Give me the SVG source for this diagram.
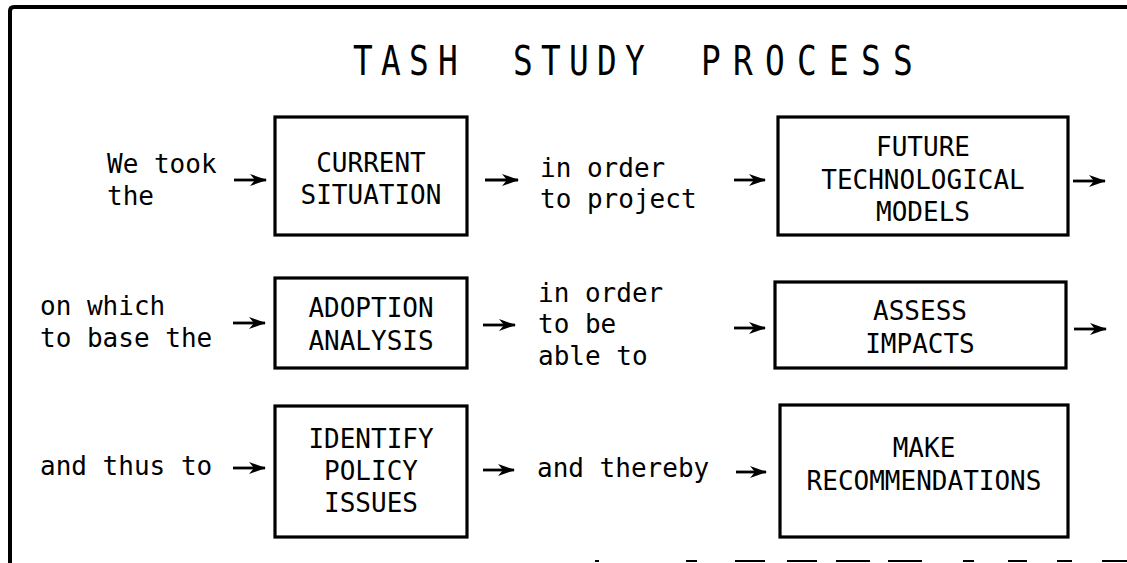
<svg xmlns="http://www.w3.org/2000/svg" width="1127" height="563" viewBox="0 0 1127 563">
<style>
.t{font-family:"DejaVu Sans Mono","Liberation Mono",monospace;font-size:26px;fill:#000}
.c{text-anchor:middle}
.title{font-family:"DejaVu Sans Mono","Liberation Mono",monospace;font-size:41px;fill:#000}
.box{fill:none;stroke:#000;stroke-width:3.2}
.frame{fill:none;stroke:#000;stroke-width:4}
.shaft{stroke:#000;stroke-width:2.8;fill:none}
</style>
<defs>
<marker id="ah" viewBox="0 0 17 12" refX="16" refY="6" markerWidth="17" markerHeight="12" markerUnits="userSpaceOnUse" orient="auto">
<path d="M17,6 L0,0 L5,6 L0,12 Z" fill="#000"/>
</marker>
</defs>
<rect width="1127" height="563" fill="#fff"/>
<g id="frame">
<path class="frame" d="M10,563 L10,11 Q10,7 14,7 L1127,7"/>
<path d="M595,561 h4 M686,561 h11 M735,561 h30 M787,561 h30 M836,561 h34 M888,561 h34 M963,561 h11 M1008,561 h19 M1057,561 h15 M1102,561 h25" stroke="#000" stroke-width="2"/>
</g>
<g id="title">
<text class="title" transform="scale(0.8,1)" y="75" x="441.25 476.25 511.25 547.5">TASH</text>
<text class="title" transform="scale(0.8,1)" y="75" x="641.25 676.25 711.25 746.25 781.25">STUDY</text>
<text class="title" transform="scale(0.8,1)" y="75" x="876.25 916.25 956.25 996.25 1036.25 1076.25 1116.25">PROCESS</text>
</g>
<g id="labels">
<text class="t" x="107" y="173">We took</text>
<text class="t" x="107" y="205">the</text>
<text class="t" x="540" y="177">in order</text>
<text class="t" x="540" y="208">to project</text>
<text class="t" x="40" y="315">on which</text>
<text class="t" x="40" y="347">to base the</text>
<text class="t" x="538" y="302">in order</text>
<text class="t" x="538" y="333">to be</text>
<text class="t" x="538" y="365">able to</text>
<text class="t" x="40" y="475">and thus to</text>
<text class="t" x="537" y="477">and thereby</text>
</g>
<g id="current-situation">
<rect class="box" x="275" y="117" width="192" height="118"/>
<text class="t c" x="371" y="172">CURRENT</text>
<text class="t c" x="371" y="204">SITUATION</text>
</g>
<g id="future-technological-models">
<rect class="box" x="778" y="117" width="290" height="118"/>
<text class="t c" x="923" y="156">FUTURE</text>
<text class="t c" x="923" y="189">TECHNOLOGICAL</text>
<text class="t c" x="923" y="221">MODELS</text>
</g>
<g id="adoption-analysis">
<rect class="box" x="275" y="278" width="192" height="90"/>
<text class="t c" x="371" y="317">ADOPTION</text>
<text class="t c" x="371" y="350">ANALYSIS</text>
</g>
<g id="assess-impacts">
<rect class="box" x="775" y="282" width="291" height="86"/>
<text class="t c" x="920" y="320">ASSESS</text>
<text class="t c" x="920" y="353">IMPACTS</text>
</g>
<g id="identify-policy-issues">
<rect class="box" x="275" y="406" width="192" height="131"/>
<text class="t c" x="371" y="448">IDENTIFY</text>
<text class="t c" x="371" y="480">POLICY</text>
<text class="t c" x="371" y="512">ISSUES</text>
</g>
<g id="make-recommendations">
<rect class="box" x="780" y="405" width="288" height="132"/>
<text class="t c" x="924" y="457">MAKE</text>
<text class="t c" x="924" y="490">RECOMMENDATIONS</text>
</g>
<g id="connectors">
<line class="shaft" x1="234" y1="180" x2="266" y2="180" marker-end="url(#ah)"/>
<line class="shaft" x1="485" y1="180" x2="518" y2="180" marker-end="url(#ah)"/>
<line class="shaft" x1="734" y1="180" x2="765" y2="180" marker-end="url(#ah)"/>
<line class="shaft" x1="1073" y1="181" x2="1105" y2="181" marker-end="url(#ah)"/>
<line class="shaft" x1="233" y1="323" x2="265" y2="323" marker-end="url(#ah)"/>
<line class="shaft" x1="483" y1="325" x2="515" y2="325" marker-end="url(#ah)"/>
<line class="shaft" x1="734" y1="328" x2="765" y2="328" marker-end="url(#ah)"/>
<line class="shaft" x1="1074" y1="329" x2="1106" y2="329" marker-end="url(#ah)"/>
<line class="shaft" x1="233" y1="468" x2="265" y2="468" marker-end="url(#ah)"/>
<line class="shaft" x1="483" y1="470" x2="514" y2="470" marker-end="url(#ah)"/>
<line class="shaft" x1="736" y1="472" x2="766" y2="472" marker-end="url(#ah)"/>
</g>
</svg>
